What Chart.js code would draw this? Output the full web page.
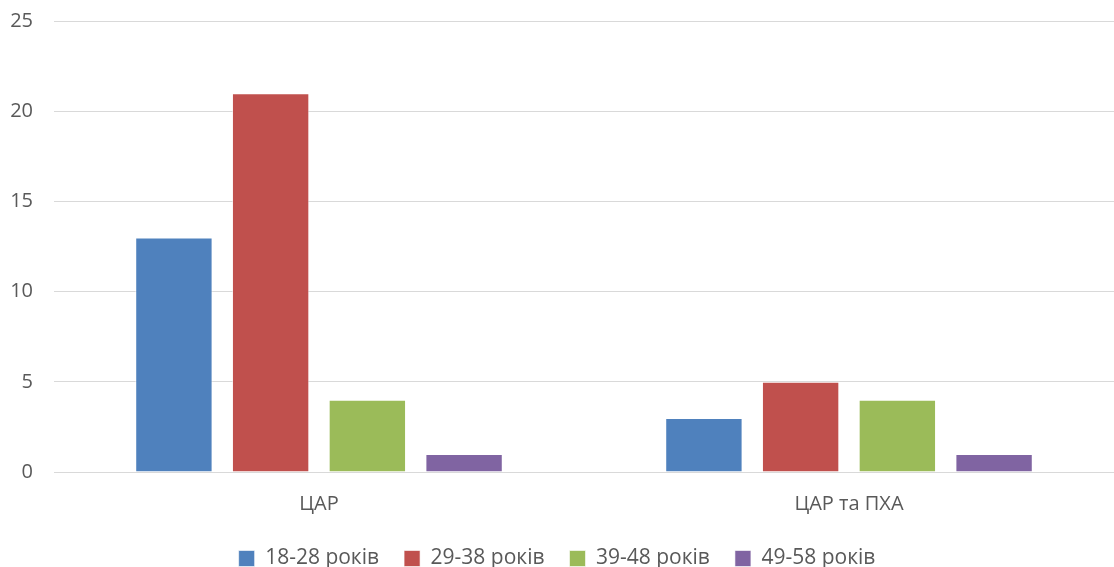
<!DOCTYPE html>
<html>
<head>
<meta charset="utf-8">
<script src="https://cdn.jsdelivr.net/npm/chart.js@4.4.1/dist/chart.umd.min.js"></script>
<style>
html,body{margin:0;padding:0;background:#fff;}
#wrap{width:1114px;height:567px;}
</style>
</head>
<body>
<div id="wrap"><canvas id="c" width="1114" height="567"></canvas></div>
<script>
const categories = ["ЦАР", "ЦАР та ПХА"];
const seriesNames = ["18-28 років", "29-38 років", "39-48 років", "49-58 років"];
const s1828 = [13, 3];
const s2938 = [21, 5];
const s3948 = [4, 4];
const s4958 = [1, 1];
const yTicks = [0, 5, 10, 15, 20, 25];

const colors = ["#4F81BD", "#C0504D", "#9BBB59", "#8064A2"];
const values = [s1828, s2938, s3948, s4958];

const fontFam = "'Open Sans', 'Liberation Sans', sans-serif";
const textColor = "#595959";

new Chart(document.getElementById('c'), {
  type: 'bar',
  data: {
    labels: categories,
    datasets: seriesNames.map((n, i) => ({
      label: n,
      data: values[i],
      backgroundColor: colors[i],
      borderColor: 'rgba(255,255,255,0.6)',
      borderWidth: 1,
      categoryPercentage: 0.73,
      barPercentage: 0.8
    }))
  },
  options: {
    responsive: false,
    animation: false,
    devicePixelRatio: 1,
    layout: { padding: { top: 21, right: 0, left: 0, bottom: -12 } },
    plugins: {
      legend: {
        position: 'bottom',
        labels: {
          boxWidth: 16, boxHeight: 16, padding: 25,
          color: textColor,
          font: { family: fontFam, size: 21 }
        }
      },
      tooltip: { enabled: false }
    },
    scales: {
      x: {
        afterFit: (scale) => { scale.height = 51; },
        grid: { display: false, drawTicks: false },
        border: { display: true, color: '#d9d9d9', width: 1 },
        ticks: { color: textColor, font: { family: fontFam, size: 20 }, padding: 20 }
      },
      y: {
        min: 0, max: 25,
        afterBuildTicks: (scale) => { scale.ticks = yTicks.map(v => ({ value: v })); },
        afterFit: (scale) => { scale.width = 54; scale.paddingTop = 0; scale.paddingBottom = 0; },
        grid: { color: '#d9d9d9', lineWidth: 1, drawTicks: false },
        border: { display: false },
        ticks: { color: textColor, font: { family: fontFam, size: 20 }, padding: 21 }
      }
    }
  }
});
</script>
</body>
</html>
